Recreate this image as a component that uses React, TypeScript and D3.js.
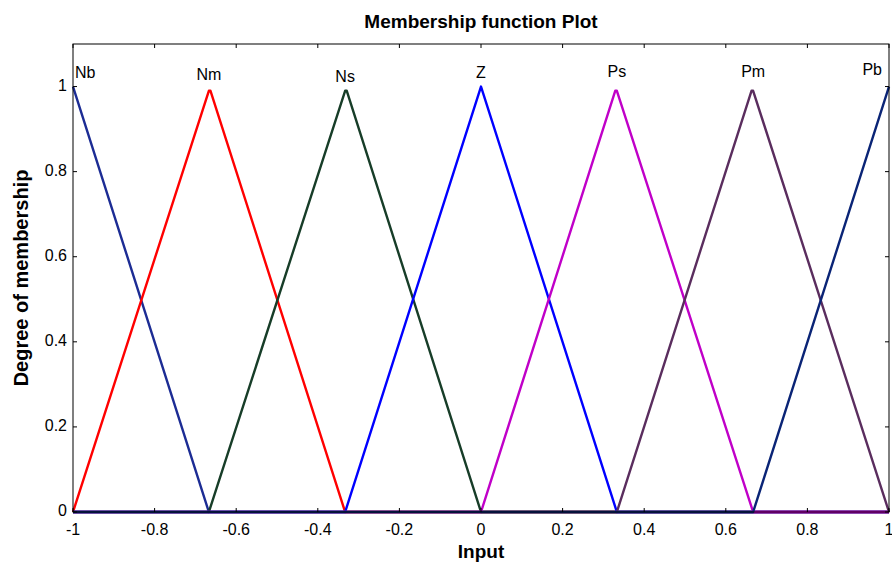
import * as d3 from 'd3'

const W = 892
const H = 563
const MARGIN = { top: 44, right: 3, bottom: 51, left: 73 }

// membership function names and their line colours
const names = ['Nb', 'Nm', 'Ns', 'Z', 'Ps', 'Pm', 'Pb']
const colors = ['#1c2c94', '#ff0000', '#173d28', '#0000ff', '#c000c8', '#5a2d5e', '#0a2476']

// vertices of each triangular MF (x values and membership values)
const xs = [
  [-1, -1, -0.667, 1],
  [-1, -0.667, -0.663, -0.333, 1],
  [-1, -0.667, -0.333, -0.329, 0, 1],
  [-1, -0.333, 0, 0.333, 1],
  [-1, 0, 0.329, 0.333, 0.667, 1],
  [-1, 0.333, 0.663, 0.667, 1],
  [-1, 0.667, 1, 1],
]
const ys = [
  [1, 1, 0, 0],
  [0, 0.99, 0.99, 0, 0],
  [0, 0, 0.99, 0.99, 0, 0],
  [0, 0, 1, 0, 0],
  [0, 0, 0.99, 0.99, 0, 0],
  [0, 0, 0.99, 0.99, 0],
  [0, 0, 1, 1],
]
// label position for each MF
const labelX = [-1, -0.667, -0.333, 0, 0.333, 0.667, 1]
const labelY = [1.03, 1.025, 1.02, 1.03, 1.033, 1.033, 1.038]

const xTicks = [-1, -0.8, -0.6, -0.4, -0.2, 0, 0.2, 0.4, 0.6, 0.8, 1]
const yTicks = [0, 0.2, 0.4, 0.6, 0.8, 1]

export default function App() {
  const bh = H - MARGIN.top - MARGIN.bottom
  const bw = 816
  const x = d3.scaleLinear().domain([-1, 1]).range([0, bw])
  const y = d3.scaleLinear().domain([0, 1.1]).range([bh, 0])
  const line = d3
    .line<[number, number]>()
    .x((d) => x(d[0]))
    .y((d) => y(d[1]))
  const font = 'Liberation Sans, Arial, sans-serif'
  const tick = 4

  return (
    <svg
      width={W}
      height={H}
      style={{ position: 'absolute', left: 0, top: 0, background: 'white' }}
      fontFamily={font}
    >
      <text x={481} y={28} textAnchor="middle" fontSize={19} fontWeight="bold">
        Membership function Plot
      </text>
      <g transform={`translate(${MARGIN.left},${MARGIN.top})`}>
        {names.map((n, i) => (
          <path
            key={n}
            d={line(xs[i].map((v, j) => [v, ys[i][j]] as [number, number])) || ''}
            fill="none"
            stroke={colors[i]}
            strokeWidth={2.4}
            strokeLinejoin="round"
          />
        ))}
        {names.map((n, i) => (
          <text
            key={'l' + n}
            x={x(labelX[i]) + (i === 0 ? 2 : i === 6 ? -7 : 0)}
            y={y(labelY[i])}
            textAnchor={i === 0 ? 'start' : i === 6 ? 'end' : 'middle'}
            dominantBaseline="middle"
            fontSize={16}
          >
            {n}
          </text>
        ))}
        <rect x={0} y={0} width={bw} height={bh} fill="none" stroke="black" strokeWidth={1} />
        {xTicks.map((t) => (
          <g key={'x' + t}>
            <line x1={x(t)} x2={x(t)} y1={bh} y2={bh - tick} stroke="black" />
            <line x1={x(t)} x2={x(t)} y1={0} y2={tick} stroke="black" />
            <text x={x(t)} y={bh + 23} textAnchor="middle" fontSize={16}>
              {t}
            </text>
          </g>
        ))}
        {yTicks.map((t) => (
          <g key={'y' + t}>
            <line x1={0} x2={tick} y1={y(t)} y2={y(t)} stroke="black" />
            <line x1={bw} x2={bw - tick} y1={y(t)} y2={y(t)} stroke="black" />
            <text x={-6} y={y(t)} textAnchor="end" dominantBaseline="middle" fontSize={16}>
              {t}
            </text>
          </g>
        ))}
        <text x={bw / 2} y={bh + 46} textAnchor="middle" fontSize={19} fontWeight="bold">
          Input
        </text>
        <text
          transform={`translate(${-45},${bh / 2}) rotate(-90)`}
          textAnchor="middle"
          fontSize={20}
          fontWeight="bold"
        >
          Degree of membership
        </text>
      </g>
    </svg>
  )
}
